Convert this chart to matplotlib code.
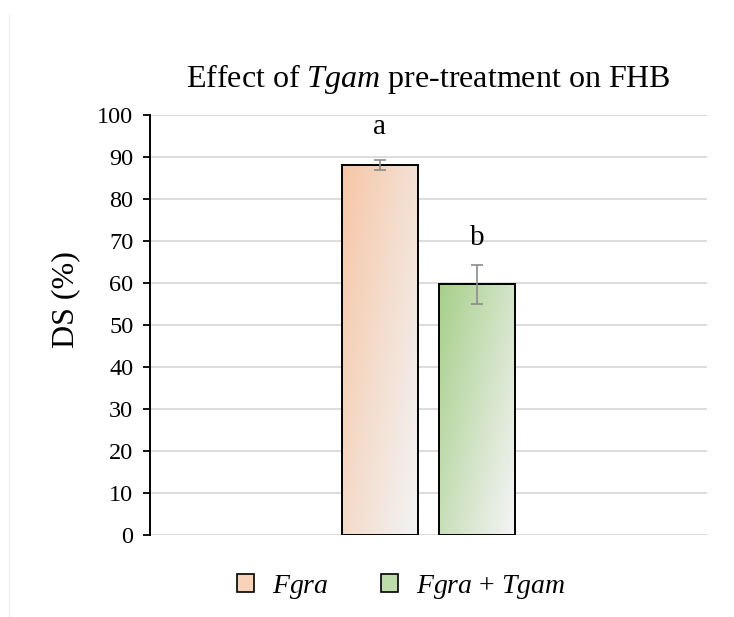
import numpy as np
import matplotlib
matplotlib.use("Agg")
import matplotlib.pyplot as plt
from matplotlib.colors import to_rgb
from matplotlib.patches import Patch
from matplotlib.lines import Line2D

plt.rcParams['font.family'] = ['Liberation Serif', 'DejaVu Serif']
plt.rcParams['mathtext.fontset'] = 'custom'
plt.rcParams['mathtext.rm'] = 'Liberation Serif'
plt.rcParams['mathtext.it'] = 'Liberation Serif:italic'

# data
groups = [r'$\it{Fgra}$', r'$\it{Fgra}$ + $\it{Tgam}$']
ds = [88.2, 59.7]
err = [1.2, 4.7]
letters = ['a', 'b']
yticks = list(range(0, 101, 10))

cols_start = ['#F6C6A6', '#A6CF8A']
col_end = '#F2F2F2'
legend_cols = ['#F8D3BA', '#BEDCA9']


def gradient_img(c1, c2, n=120):
    c1 = np.array(to_rgb(c1))
    c2 = np.array(to_rgb(c2))
    xf = np.linspace(0, 1, n)[None, :]
    yf = np.linspace(0, 1, n)[:, None]   # 0 = top row
    t = np.clip(0.6 * xf + 0.45 * yf, 0, 1)
    return c1 + (c2 - c1) * t[..., None]


fig = plt.figure(figsize=(7.34, 6.17), dpi=100)
ax = fig.add_axes([150/734, 1-535/617, 557/734, 420/617])

x = np.array([-0.5, 0.5])
width = 0.78
bars = ax.bar(x, ds, width=width, facecolor='none', edgecolor='black',
              linewidth=1.4, zorder=3)
for b, c in zip(bars, cols_start):
    x0, y0 = b.get_x(), b.get_y()
    im = ax.imshow(gradient_img(c, col_end), aspect='auto', origin='upper',
                   extent=[x0, x0 + b.get_width(), y0, y0 + b.get_height()],
                   zorder=2, interpolation='bilinear')
    im.set_clip_path(b)

ax.errorbar(x, ds, yerr=err, fmt='none', ecolor='#8c8c8c', elinewidth=1.2,
            capsize=4.5, capthick=1.2, zorder=4)

for xi, v, l in zip(x, [97.1, 70.7], letters):
    ax.text(xi, v, l, ha='center', va='center', fontsize=21)

ax.set_xlim(-2.87, 2.87)
ax.set_ylim(0, 100)
ax.set_yticks(yticks)
ax.tick_params(axis='y', labelsize=17.5, length=5, width=1.3, direction='out', pad=7)
ax.set_xticks([])
ax.yaxis.grid(True, color='#d9d9d9', linewidth=1.3, zorder=0)
ax.set_axisbelow(True)
for s in ['top', 'right', 'bottom']:
    ax.spines[s].set_visible(False)
ax.spines['left'].set_linewidth(1.4)
ax.set_ylabel('DS (%)', fontsize=23)
ax.yaxis.set_label_coords(-0.125, 0.56)

ax.set_title(r'Effect of $\it{Tgam}$ pre-treatment on FHB', fontsize=23, pad=20)

handles = [Patch(facecolor=c, edgecolor='black', linewidth=1.2) for c in legend_cols]
fig.legend(handles, groups, loc='center', bbox_to_anchor=(401/734, 1-587/617),
           ncol=2, frameon=False, fontsize=20, handlelength=0.6, handleheight=0.6,
           handletextpad=0.65, columnspacing=1.9)

fig.add_artist(Line2D([9/734, 9/734], [0, 1-15/617], color='#ececec', linewidth=1))

fig.savefig('out.png', dpi=100)
